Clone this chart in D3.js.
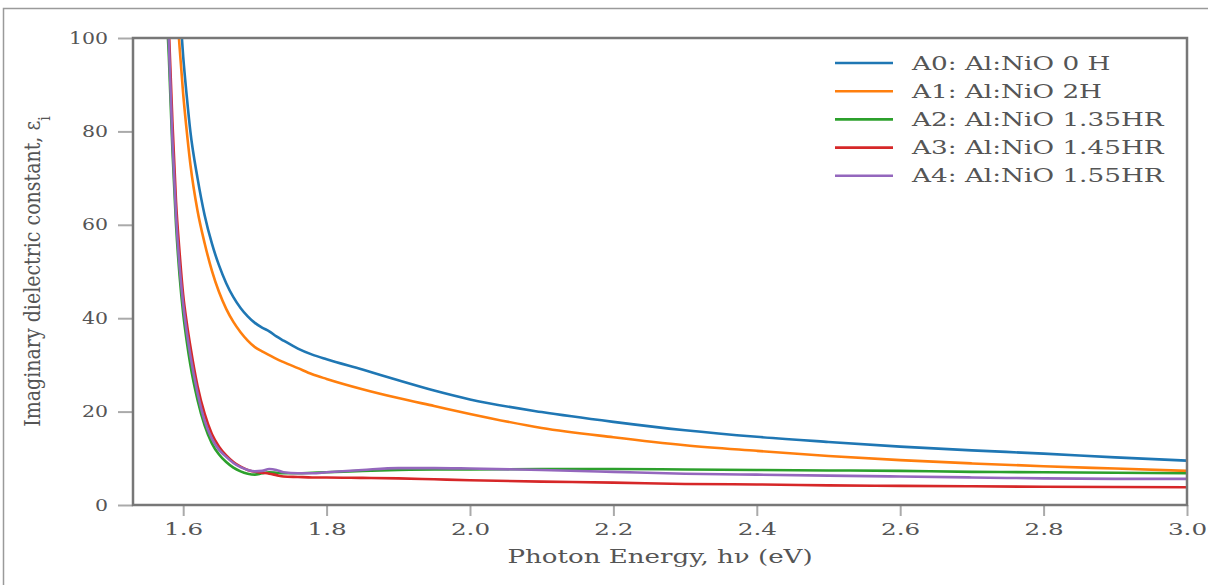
<!DOCTYPE html>
<html>
<head>
<meta charset="utf-8">
<script src="https://cdn.jsdelivr.net/npm/d3@7"></script>
<style>
  html, body { margin: 0; padding: 0; background: #fff; }
  svg { display: block; }
</style>
</head>
<body>
<svg id="chart" width="1208" height="585"></svg>
<script>
// Photon energy grid (eV) shared by all samples
const energy = [1.575, 1.58, 1.585, 1.59, 1.595, 1.60, 1.605, 1.61, 1.62, 1.63, 1.64, 1.65,
  1.66, 1.67, 1.68, 1.69, 1.70, 1.71, 1.72, 1.73, 1.74, 1.76, 1.78, 1.80, 1.85, 1.90,
  1.95, 2.00, 2.10, 2.20, 2.30, 2.40, 2.50, 2.60, 2.70, 2.80, 2.90, 3.00];

// Imaginary dielectric constant for each sample
const epsA0 = [160, 150, 135, 120, 107, 96, 87.5, 80, 70, 62, 56, 51.3,
  47.5, 44.5, 42.2, 40.4, 39.0, 38.0, 37.2, 36.1, 35.2, 33.5, 32.2, 31.2, 29.0, 26.7,
  24.5, 22.6, 19.9, 17.8, 16.0, 14.6, 13.5, 12.5, 11.7, 11.0, 10.2, 9.5];
const epsA1 = [155, 145, 128, 110, 98, 88, 80, 73, 63, 56, 50.2, 45.6,
  42, 39.2, 37.0, 35.2, 33.8, 32.9, 32.1, 31.3, 30.6, 29.3, 28.0, 27.0, 24.8, 22.9,
  21.2, 19.5, 16.5, 14.5, 12.8, 11.6, 10.5, 9.6, 8.9, 8.3, 7.8, 7.3];
const epsA2 = [112, 96, 76, 60, 49, 41, 35, 30, 22.5, 17, 13.2, 10.8,
  9.2, 8.0, 7.2, 6.7, 6.5, 6.8, 7.0, 6.9, 6.8, 6.8, 6.9, 7.0, 7.3, 7.5,
  7.6, 7.6, 7.7, 7.7, 7.6, 7.5, 7.4, 7.3, 7.1, 7.0, 6.9, 6.8];
const epsA3 = [118, 102, 82, 65, 54, 45, 39, 34, 25.5, 19.5, 15.2, 12.5,
  10.6, 9.2, 8.2, 7.5, 7.1, 6.9, 6.7, 6.4, 6.1, 6.0, 5.9, 5.9, 5.8, 5.7,
  5.5, 5.3, 5.0, 4.8, 4.5, 4.4, 4.2, 4.1, 4.0, 3.9, 3.85, 3.8];
const epsA4 = [115, 99, 78, 62, 51, 43, 37, 32, 24, 18, 14.2, 11.8,
  10.3, 9.0, 8.1, 7.5, 7.2, 7.3, 7.7, 7.5, 7.0, 6.8, 6.8, 7.0, 7.5, 7.9,
  7.9, 7.8, 7.5, 7.1, 6.7, 6.5, 6.3, 6.1, 5.9, 5.7, 5.6, 5.6];

const seriesNames = ["A0: Al:NiO 0 H", "A1: Al:NiO 2H", "A2: Al:NiO 1.35HR",
  "A3: Al:NiO 1.45HR", "A4: Al:NiO 1.55HR"];
const seriesValues = [epsA0, epsA1, epsA2, epsA3, epsA4];
const seriesColors = ["#1f77b4", "#ff7f0e", "#2ca02c", "#d62728", "#9467bd"];

const xTicks = [1.6, 1.8, 2.0, 2.2, 2.4, 2.6, 2.8, 3.0];
const yTicks = [0, 20, 40, 60, 80, 100];

const svg = d3.select("#chart");
const margin = { left: 133, right: 21, top: 38, bottom: 80 };
const W = 1208, H = 585;
const plotW = W - margin.left - margin.right;
const plotH = H - margin.top - margin.bottom;

const x = d3.scaleLinear().domain([1.53, 3.0]).range([margin.left, margin.left + plotW]);
const y = d3.scaleLinear().domain([0, 100]).range([margin.top + plotH, margin.top]);

const serif = "'DejaVu Serif', serif";
const textColor = "#555";

// outer figure frame
svg.append("rect")
  .attr("x", 3.5).attr("y", 8.5).attr("width", W + 10).attr("height", H + 10)
  .attr("fill", "none").attr("stroke", "#9a9a9a").attr("stroke-width", 1.5);

// clip region for the curves
svg.append("clipPath").attr("id", "plotClip")
  .append("rect")
  .attr("x", margin.left).attr("y", margin.top)
  .attr("width", plotW).attr("height", plotH);

// curves
const line = d3.line()
  .x((d, i) => x(energy[i]))
  .y(d => y(d))
  .curve(d3.curveMonotoneX);

const curves = svg.append("g").attr("clip-path", "url(#plotClip)");
seriesValues.forEach((vals, k) => {
  curves.append("path")
    .datum(vals)
    .attr("d", line)
    .attr("fill", "none")
    .attr("stroke", seriesColors[k])
    .attr("stroke-width", 2.6)
    .attr("stroke-linejoin", "round");
});

// axes
const xAxis = d3.axisBottom(x).tickValues(xTicks).tickFormat(d3.format(".1f")).tickSize(11).tickPadding(7);
const yAxis = d3.axisLeft(y).tickValues(yTicks).tickFormat(d3.format("d")).tickSize(15).tickPadding(10);

const gx = svg.append("g").attr("transform", `translate(0,${margin.top + plotH})`).call(xAxis);
const gy = svg.append("g").attr("transform", `translate(${margin.left},0)`).call(yAxis);

[gx, gy].forEach(g => {
  g.select(".domain").remove();
  g.selectAll(".tick line").attr("stroke", "#aaa").attr("stroke-width", 2);
  g.selectAll(".tick text")
    .attr("fill", textColor)
    .style("font-family", serif);
});
gx.selectAll(".tick text").style("font-size", "17px");
gy.selectAll(".tick text").style("font-size", "16px");

// widen tick labels about their anchor
gx.selectAll(".tick text").each(function () {
  const t = d3.select(this);
  const yy = +t.attr("y");
  t.attr("transform", `translate(0,${yy}) scale(1.45,1) translate(0,${-yy})`);
});
gy.selectAll(".tick text").each(function () {
  const t = d3.select(this);
  const xx = +t.attr("x");
  t.attr("transform", `translate(${xx},0) scale(1.28,1) translate(${-xx},0)`);
});

// plot frame (spines)
svg.append("rect")
  .attr("x", margin.left).attr("y", margin.top)
  .attr("width", plotW).attr("height", plotH)
  .attr("fill", "none").attr("stroke", "#777").attr("stroke-width", 2.5);

// axis titles
svg.append("text")
  .attr("transform", `translate(${margin.left + plotW / 2},${H - 22}) scale(1.45,1)`)
  .attr("text-anchor", "middle")
  .attr("fill", textColor)
  .style("font-family", serif)
  .style("font-size", "18px")
  .text("Photon Energy, h\u03BD (eV)");

const yl = svg.append("text")
  .attr("transform", `translate(40,${margin.top + plotH / 2}) rotate(-90) scale(1,1.2)`)
  .attr("text-anchor", "middle")
  .attr("fill", textColor)
  .style("font-family", serif)
  .style("font-size", "19px");
yl.append("tspan").text("Imaginary dielectric constant, \u03B5");
yl.append("tspan").attr("baseline-shift", "sub").style("font-size", "14px").text("i");

// legend
const legend = svg.append("g").attr("transform", "translate(835,63)");
seriesNames.forEach((name, k) => {
  const row = legend.append("g").attr("transform", `translate(0,${k * 28.2})`);
  row.append("line")
    .attr("x1", 0).attr("x2", 58).attr("y1", 0).attr("y2", 0)
    .attr("stroke", seriesColors[k]).attr("stroke-width", 2.6);
  row.append("text")
    .attr("transform", "translate(77,6.5) scale(1.46,1)")
    .attr("fill", textColor)
    .style("font-family", serif)
    .style("font-size", "18px")
    .text(name);
});
</script>
</body>
</html>
